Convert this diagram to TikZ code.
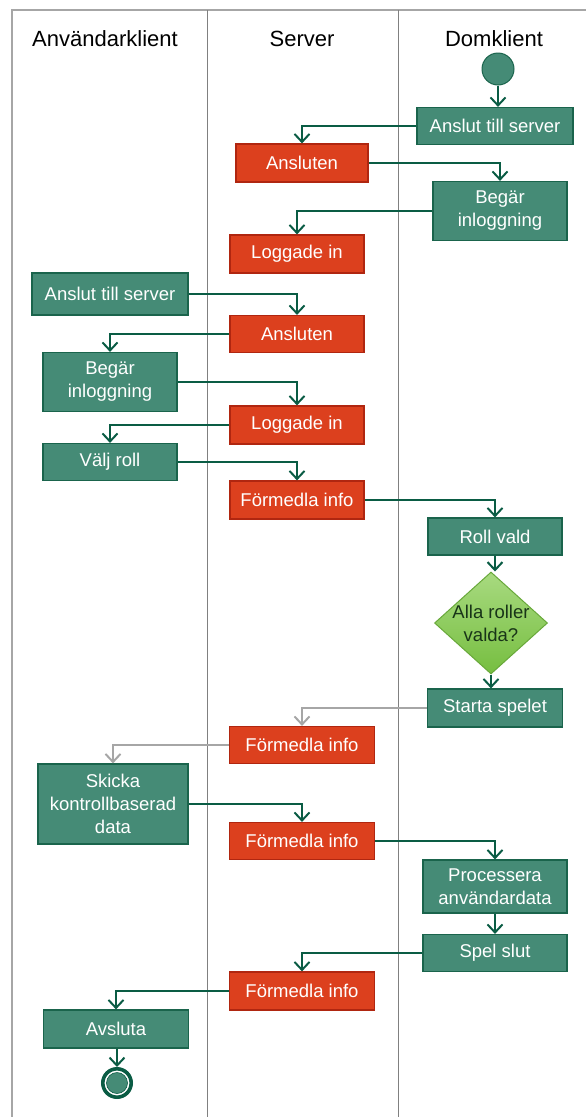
\documentclass[tikz,border=0pt]{standalone}
\usepackage{fontspec}
\setmainfont{Liberation Sans}
\usetikzlibrary{arrows.meta,shapes.geometric}

\definecolor{actfill}{RGB}{69,139,118}
\definecolor{actline}{RGB}{26,100,76}
\definecolor{srvfill}{RGB}{220,64,30}
\definecolor{srvline}{RGB}{176,38,16}
\definecolor{flowgreen}{RGB}{10,92,68}
\definecolor{flowgray}{RGB}{166,166,166}
\definecolor{framegray}{RGB}{166,166,166}
\definecolor{lanegray}{RGB}{128,128,128}
\definecolor{decline}{RGB}{104,168,58}
\definecolor{dectop}{RGB}{168,218,128}
\definecolor{decbottom}{RGB}{118,190,64}
\definecolor{dectext}{RGB}{24,52,24}

\newcommand\actfont{\fontsize{18.5}{23}\selectfont}
\newcommand\lanefont{\fontsize{22}{26}\selectfont}

\tikzset{
  act/.style={draw=actline, line width=1.2pt, fill=actfill, text=white,
    font=\actfont, align=center, inner sep=0pt},
  srv/.style={act, draw=srvline, fill=srvfill},
  flow/.style={draw=flowgreen, line width=2pt,
    -{Straight Barb[length=8pt,width=15pt]}},
  gflow/.style={flow, draw=flowgray},
  lane/.style={draw=lanegray, line width=1pt},
  frame/.style={draw=framegray, line width=2pt},
  lanehead/.style={font=\lanefont, anchor=base}
}

\begin{document}
\begin{tikzpicture}[x=1pt,y=-1pt]
\useasboundingbox (0,0) rectangle (586,1117);

% swimlane frame and dividers
\draw[frame] (12,1117) -- (12,10) -- (586,10);
\draw[lane] (207,10) -- (207,1117);
\draw[lane] (398,10) -- (398,1117);

% lane headings
\node[lanehead] (hu) at (105,46) {Användarklient};
\node[lanehead] (hs) at (302,46) {Server};
\node[lanehead] (hd) at (494,46) {Domklient};

% initial state
\node[circle, draw=actline, line width=1pt, fill=actfill, minimum size=32pt,
  inner sep=0pt] (start) at (498,69) {};

% Domklient activities
\node[act, minimum width=156pt, minimum height=37pt] (d1) at (495,126) {Anslut till server};
\node[act, minimum width=134pt, minimum height=59pt] (d2) at (500,211) {Begär\\inloggning};
\node[act, minimum width=134pt, minimum height=37pt] (d3) at (495,536.5) {Roll vald};
\node[diamond, draw=decline, line width=1pt, top color=dectop, bottom color=decbottom,
  minimum width=113pt, minimum height=102pt, inner sep=0pt] (dia) at (491,623) {};
\node[font=\actfont, text=dectext, align=center] (diatext) at (dia) {Alla roller\\valda?};
\node[act, minimum width=135pt, minimum height=38pt] (d4) at (495,708) {Starta spelet};
\node[act, minimum width=144pt, minimum height=53pt] (d5) at (495,886.5) {Processera\\användardata};
\node[act, minimum width=144pt, minimum height=37pt] (d6) at (495,953) {Spel slut};

% Server activities
\node[srv, minimum width=132pt, minimum height=38pt] (s1) at (302,163) {Ansluten};
\node[srv, minimum width=134pt, minimum height=38pt] (s2) at (297,254) {Loggade in};
\node[srv, minimum width=134pt, minimum height=37pt] (s3) at (297,334) {Ansluten};
\node[srv, minimum width=134pt, minimum height=38pt] (s4) at (297,425) {Loggade in};
\node[srv, minimum width=134pt, minimum height=38pt] (s5) at (297,500) {Förmedla info};
\node[srv, minimum width=145pt, minimum height=37pt] (s6) at (302,745) {Förmedla info};
\node[srv, minimum width=145pt, minimum height=37pt] (s7) at (302,841) {Förmedla info};
\node[srv, minimum width=145pt, minimum height=38pt] (s8) at (302,991) {Förmedla info};

% Användarklient activities
\node[act, minimum width=156pt, minimum height=42pt] (u1) at (110,294) {Anslut till server};
\node[act, minimum width=134pt, minimum height=59pt] (u2) at (110,382) {Begär\\inloggning};
\node[act, minimum width=134pt, minimum height=37pt] (u3) at (110,462) {Välj roll};
\node[act, minimum width=150pt, minimum height=80pt] (u4) at (113,804) {Skicka\\kontrollbaserad\\data};
\node[act, minimum width=145pt, minimum height=38pt] (u5) at (116,1029) {Avsluta};

% final state
\node[circle, draw=flowgreen, line width=3.6pt, minimum size=28.4pt, inner sep=0pt] (stop) at (117,1083) {};
\node[circle, draw=flowgreen, line width=0.6pt, fill=actfill, minimum size=21pt, inner sep=0pt] (stopdot) at (stop) {};

% control flow
\draw[flow] (start.south) -- (start.south |- d1.north);
\draw[flow] (d1.west) -| (s1.north);
\draw[flow] (s1.east) -| (d2.north);
\draw[flow] (d2.west) -| (s2.north);
\draw[flow] (u1.east) -| (s3.north);
\draw[flow] (s3.west) -| (u2.north);
\draw[flow] (u2.east) -| (s4.north);
\draw[flow] (s4.west) -| (u3.north);
\draw[flow] (u3.east) -| (s5.north);
\draw[flow] (s5.east) -| (d3.north);
\draw[flow] (d3.south) -- (d3.south |- dia.north);
\draw[flow] (dia.south) -- (dia.south |- d4.north);
\draw[gflow] (d4.west) -| (s6.north);
\draw[gflow] (s6.west) -| (u4.north);
\draw[flow] (u4.east) -| (s7.north);
\draw[flow] (s7.east) -| (d5.north);
\draw[flow] (d5.south) -- (d5.south |- d6.north);
\draw[flow] (d6.west) -| (s8.north);
\draw[flow] (s8.west) -| (u5.north);
\draw[flow] (u5.south -| stop.north) -- (stop.north);
\end{tikzpicture}
\end{document}
